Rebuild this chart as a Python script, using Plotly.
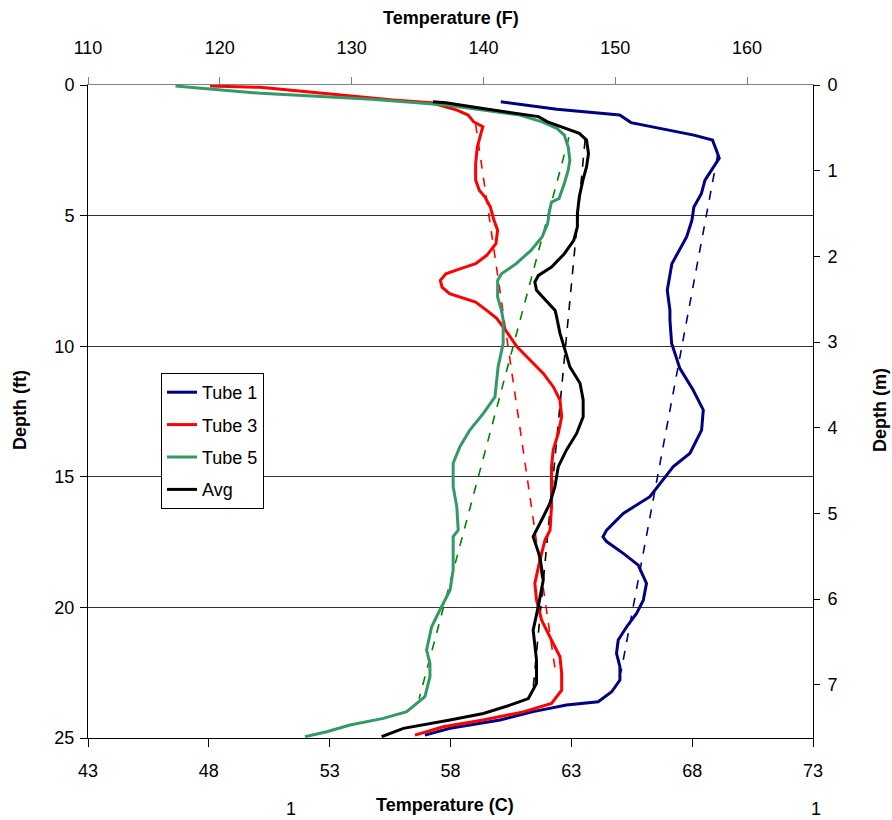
import plotly.graph_objects as go

# ---- data (temperature in deg C, depth in ft) ----
tube1_depth = [0.64, 0.93, 1.15, 1.44, 1.92, 2.11, 2.49, 2.81, 3.2, 3.64, 4.16, 4.67, 5.18, 5.82, 6.84, 7.86,
               8.63, 9.0, 9.89, 10.85, 11.68, 12.44, 13.21, 14.1, 14.61, 15.12, 15.76, 16.4, 17.04, 17.3, 17.48,
               17.93, 18.38, 19.08, 19.72, 20.23, 20.74, 21.25, 21.76, 22.27, 22.78, 23.23, 23.61, 23.74, 23.99,
               24.31, 24.63, 24.89]
tube1_temp = [60.08, 62.40, 65.0, 65.47, 68.07, 68.84, 69.0, 69.12, 68.84, 68.53, 68.38, 68.07, 67.99, 67.77, 67.16, 66.97,
              67.08, 67.08, 67.15, 67.49, 68.04, 68.46, 68.39, 67.91, 67.22, 66.80, 66.25, 65.15, 64.46, 64.31, 64.46,
              65.15, 65.77, 66.11, 65.98, 65.70, 65.29, 64.94, 64.87, 65.01, 65.01, 64.67, 64.11, 62.80, 61.42,
              60.05, 57.98, 56.94]

tube3_depth = [0.04, 0.09, 0.57, 0.68, 0.96, 1.15, 1.41, 1.60, 1.85, 2.37, 3.01, 3.64, 4.03, 4.28, 4.67, 5.18,
               5.56, 6.07, 6.52, 6.84, 7.03, 7.23, 7.48, 7.74, 7.99, 8.18, 8.31, 8.63, 8.93, 9.44, 10.01, 10.53,
               11.04, 11.55, 12.06, 12.70, 13.34, 13.97, 14.61, 15.38, 16.14, 17.04, 17.42, 18.19, 19.08, 19.72,
               20.49, 21.25, 21.89, 22.53, 23.17, 23.68, 24.00, 24.31, 24.57, 24.89]
tube3_temp = [48.05, 50.12, 55.62, 57.20, 58.27, 58.73, 58.96, 59.34, 59.26, 59.11, 59.04, 59.04, 59.19, 59.42, 59.65, 59.80,
              59.95, 59.88, 59.50, 59.04, 58.42, 57.81, 57.58, 57.65, 57.96, 58.58, 59.04, 59.50, 59.91, 60.32, 60.74, 61.29,
              61.84, 62.25, 62.53, 62.60, 62.46, 62.25, 62.18, 62.18, 62.18, 62.12, 61.91, 61.70, 61.49, 61.56,
              61.77, 62.18, 62.53, 62.60, 62.60, 62.18, 61.01, 59.35, 57.70, 56.53]

tube5_depth = [0.04, 0.32, 0.55, 0.77, 0.96, 1.15, 1.41, 1.66, 1.92, 2.37, 2.88, 3.26, 3.77, 4.35, 4.48, 4.8,
               5.31, 5.82, 6.33, 6.84, 7.23, 7.48, 8.12, 8.63, 9.0, 9.89, 10.79, 11.94, 12.57, 13.21, 13.85, 14.48,
               15.38, 16.14, 17.04, 17.29, 18.57, 19.34, 20.10, 20.74, 21.63, 22.15, 22.66, 23.42, 23.99, 24.25,
               24.50, 24.76, 24.95]
tube5_temp = [46.62, 50.15, 54.75, 57.81, 59.34, 60.87, 61.79, 62.40, 62.71, 62.87, 62.94, 62.87, 62.71, 62.49, 62.18, 62.10,
              62.02, 61.79, 61.33, 60.72, 60.11, 59.95, 59.95, 60.11, 60.18, 60.18, 59.97, 59.84, 59.36, 58.80, 58.39, 58.11,
              58.11, 58.26, 58.32, 58.11, 58.11, 57.98, 57.56, 57.22, 57.01, 57.15, 57.15, 56.94, 56.19, 55.22,
              53.84, 52.88, 51.98]

avg_depth = [0.64, 0.68, 0.9, 1.09, 1.21, 1.41, 1.60, 1.85, 2.11, 2.62, 3.13, 3.64, 4.28, 4.92, 5.43, 5.95,
             6.46, 6.97, 7.29, 7.54, 7.86, 8.25, 8.63, 8.87, 9.51, 10.15, 10.79, 11.42, 12.06, 12.70, 13.34, 13.97,
             14.61, 15.38, 16.02, 16.53, 17.04, 17.29, 18.06, 18.95, 19.97, 20.87, 22.02, 22.91, 23.49, 23.74,
             24.06, 24.31, 24.63, 24.95]
avg_temp = [57.27, 57.81, 59.34, 60.87, 61.64, 62.02, 62.56, 63.33, 63.63, 63.71, 63.63, 63.48, 63.33, 63.25, 63.25, 63.10,
            62.71, 62.18, 61.64, 61.49, 61.56, 61.94, 62.33, 62.39, 62.53, 62.74, 62.94, 63.36, 63.49, 63.49, 63.22, 62.80,
            62.46, 62.32, 62.11, 61.84, 61.56, 61.42, 61.70, 61.84, 61.63, 61.42, 61.56, 61.56, 61.22, 60.46,
            59.36, 57.98, 56.05, 55.15]

# linear trend lines (dashed)
trend1_depth = [2.7, 22.5]
trend1_temp = [69.05, 65.05]
trend3_depth = [1.5, 22.5]
trend3_temp = [59.04, 62.35]
trend5_depth = [2.0, 23.5]
trend5_temp = [62.90, 56.70]
trendavg_depth = [2.1, 23.3]
trendavg_temp = [63.57, 61.40]

series_names = ["Tube 1", "Tube 3", "Tube 5", "Avg"]

c_ticks = [43, 48, 53, 58, 63, 68, 73]
f_ticks = [110, 120, 130, 140, 150, 160]
ft_ticks = [0, 5, 10, 15, 20, 25]
m_ticks = [0, 1, 2, 3, 4, 5, 6, 7]

FONT = "Arial, Liberation Sans, sans-serif"

fig = go.Figure()

main = [
    (tube1_temp, tube1_depth, "#000080", series_names[0]),
    (tube3_temp, tube3_depth, "#FF0000", series_names[1]),
    (tube5_temp, tube5_depth, "#339966", series_names[2]),
    (avg_temp, avg_depth, "#000000", series_names[3]),
]
trends = [
    (trend1_temp, trend1_depth, "#000080"),
    (trend3_temp, trend3_depth, "#FF0000"),
    (trend5_temp, trend5_depth, "#008000"),
    (trendavg_temp, trendavg_depth, "#000000"),
]

for t, d, c in trends:
    fig.add_trace(go.Scatter(x=t, y=d, mode="lines", showlegend=False,
                             line=dict(color=c, width=1.6, dash="dash")))
for t, d, c, n in main:
    fig.add_trace(go.Scatter(x=t, y=d, mode="lines", name=n, legendgroup=n,
                             line=dict(color=c, width=3)))

# invisible traces to activate secondary axes
fig.add_trace(go.Scatter(x=[110, 165], y=[0, 0], xaxis="x2", yaxis="y", mode="lines",
                         line=dict(width=0), showlegend=False, hoverinfo="skip"))
fig.add_trace(go.Scatter(x=[43, 73], y=[0, 7.62], xaxis="x", yaxis="y2", mode="lines",
                         line=dict(width=0), showlegend=False, hoverinfo="skip"))

fig.update_layout(
    width=892, height=820,
    margin=dict(l=88, r=79, t=85, b=82),
    paper_bgcolor="white", plot_bgcolor="white",
    font=dict(family=FONT, size=16, color="black"),
    xaxis=dict(range=[43, 73], tickvals=c_ticks, ticks="outside", ticklen=8, tickcolor="black",
               showline=True, linecolor="black", linewidth=1, showgrid=False, zeroline=False,
               tickfont=dict(size=18), ticklabelstandoff=8),
    xaxis2=dict(range=[110, 165], tickvals=f_ticks, overlaying="x", side="top", ticks="outside",
                ticklen=7, tickcolor="#808080", showline=True, linecolor="#808080", linewidth=1,
                showgrid=False, zeroline=False, tickfont=dict(size=18), ticklabelstandoff=16),
    yaxis=dict(range=[25, 0], tickvals=ft_ticks, ticks="outside", ticklen=7, tickcolor="black",
               showline=True, linecolor="black", linewidth=1, showgrid=True, gridcolor="#333333",
               gridwidth=1, zeroline=False, tickfont=dict(size=18), ticklabelstandoff=2),
    yaxis2=dict(range=[7.62, 0], tickvals=m_ticks, overlaying="y", side="right", ticks="outside",
                ticklen=6, tickcolor="black", showline=True, linecolor="black", linewidth=1,
                showgrid=False, zeroline=False, tickfont=dict(size=18), ticklabelstandoff=4),
    legend=dict(x=(161 - 88) / 725, y=(738 - 373) / 653, xanchor="left", yanchor="top",
                bgcolor="white", bordercolor="black", borderwidth=1,
                font=dict(size=18), tracegroupgap=6, itemwidth=30),
    showlegend=True,
)

annotations = [
    dict(text="<b>Temperature (F)</b>", x=0.5, y=(738 - 18) / 653, xref="paper", yref="paper",
         showarrow=False, font=dict(size=18), xanchor="center", yanchor="middle"),
    dict(text="<b>Temperature (C)</b>", x=(445 - 88) / 725, y=(738 - 805) / 653, xref="paper", yref="paper",
         showarrow=False, font=dict(size=18), xanchor="center", yanchor="middle"),
    dict(text="<b>Depth (ft)</b>", x=(20 - 88) / 725, y=(738 - 410) / 653, xref="paper", yref="paper",
         showarrow=False, font=dict(size=18), textangle=-90, xanchor="center", yanchor="middle"),
    dict(text="<b>Depth (m)</b>", x=(880 - 88) / 725, y=(738 - 410) / 653, xref="paper", yref="paper",
         showarrow=False, font=dict(size=18), textangle=-90, xanchor="center", yanchor="middle"),
    dict(text="1", x=(291 - 88) / 725, y=(738 - 821) / 653, xref="paper", yref="paper",
         showarrow=False, font=dict(size=18), xanchor="center", yanchor="bottom"),
    dict(text="1", x=(816 - 88) / 725, y=(738 - 821) / 653, xref="paper", yref="paper",
         showarrow=False, font=dict(size=18), xanchor="center", yanchor="bottom"),
]
fig.update_layout(annotations=annotations)

fig.write_html("out.html")
